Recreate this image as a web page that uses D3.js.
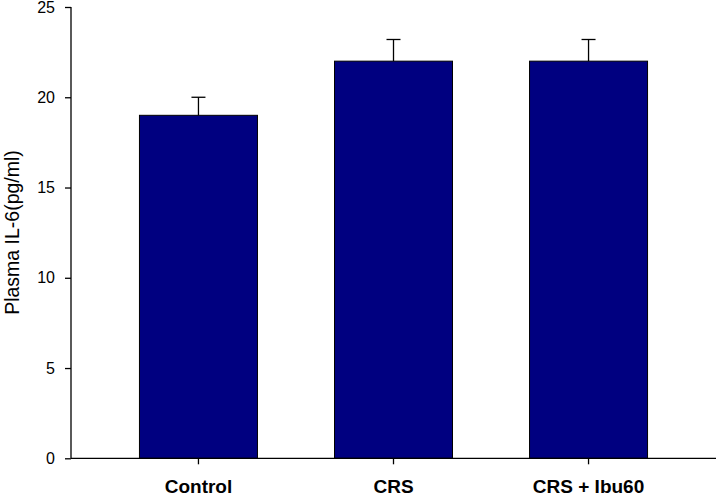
<!DOCTYPE html>
<html><head><meta charset="utf-8">
<script src="https://cdn.jsdelivr.net/npm/d3@7"></script>
<style>body{margin:0;background:#fff}svg{display:block}</style>
</head><body>
<svg id="c" width="716" height="496"></svg>
<script>
const categories = ["Control", "CRS", "CRS + Ibu60"];
const means = [19, 22, 22];
const errors = [1.0, 1.2, 1.2];
const yTicks = [0, 5, 10, 15, 20, 25];
const yLabel = "Plasma IL-6(pg/ml)";

const svg = d3.select("#c");
const L = 71, R = 716, T = 7, B = 458.3;
const x = d3.scaleBand().domain(categories).range([L, R]).paddingInner(0.395).paddingOuter(0.351);
const y = d3.scaleLinear().domain([0, 25]).range([B, T]);
const FONT = "Liberation Sans, Arial, sans-serif";

// bars
svg.selectAll("rect.bar").data(categories).enter().append("rect")
  .attr("x", d => x(d)).attr("width", x.bandwidth())
  .attr("y", (d, i) => y(means[i])).attr("height", (d, i) => y(0) - y(means[i]))
  .attr("fill", "#000080").attr("stroke", "#000").attr("stroke-width", 1);

// error bars
const eg = svg.append("g").attr("stroke", "#000").attr("stroke-width", 1.3);
categories.forEach((c, i) => {
  const cx = x(c) + x.bandwidth() / 2;
  eg.append("line").attr("x1", cx).attr("x2", cx).attr("y1", y(means[i])).attr("y2", y(means[i] + errors[i]));
  eg.append("line").attr("x1", cx - 7).attr("x2", cx + 7).attr("y1", y(means[i] + errors[i])).attr("y2", y(means[i] + errors[i]));
});

// y axis
const ya = svg.append("g").attr("transform", `translate(${L},0)`)
  .call(d3.axisLeft(y).tickValues(yTicks).tickSize(6).tickPadding(10).tickFormat(d3.format("d")));
ya.select(".domain").attr("stroke", "#000").attr("stroke-width", 1.3).attr("d", `M-0,${T}V${B}`);
ya.selectAll(".tick line").attr("stroke", "#000").attr("stroke-width", 1.3);
ya.selectAll("text").attr("font-family", FONT).attr("font-size", 16).attr("fill", "#000");

// x axis
const xa = svg.append("g").attr("transform", `translate(0,${B})`)
  .call(d3.axisBottom(x).tickSize(6).tickPadding(15));
xa.select(".domain").attr("stroke", "#000").attr("stroke-width", 1.3).attr("d", `M${L},0H${R}`);
xa.selectAll(".tick line").attr("stroke", "#000").attr("stroke-width", 1.3);
xa.selectAll("text").attr("font-family", FONT).attr("font-size", 19)
  .attr("font-weight", "bold").attr("fill", "#000");

// y label
svg.append("text").attr("transform", "translate(18.5,232.5) rotate(-90)")
  .attr("text-anchor", "middle").attr("font-family", FONT)
  .attr("font-size", 19.5).attr("fill", "#000").text(yLabel);
</script>
</body></html>
